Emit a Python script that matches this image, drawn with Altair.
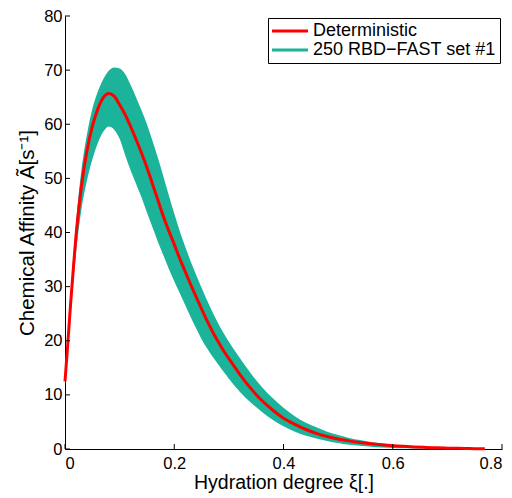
import altair as alt
import pandas as pd

# Hydration degree grid and curves
xi = [0.000, 0.005, 0.010, 0.015, 0.020, 0.025, 0.030, 0.040, 0.050, 0.060,
      0.070, 0.080, 0.090, 0.100, 0.110, 0.120, 0.130, 0.140, 0.150, 0.160,
      0.170, 0.180, 0.190, 0.200, 0.210, 0.220, 0.230, 0.240, 0.250, 0.260,
      0.270, 0.280, 0.290, 0.300, 0.320, 0.340, 0.360, 0.380, 0.400, 0.420,
      0.440, 0.460, 0.480, 0.500, 0.520, 0.540, 0.560, 0.580, 0.600, 0.620,
      0.640, 0.660, 0.680, 0.700, 0.720, 0.740, 0.7685]

det = [12.5, 19.3, 26.5, 33.0, 39.2, 44.2, 48.5, 55.0, 59.6, 62.8,
       64.9, 65.7, 65.2, 63.6, 61.8, 59.6, 57.2, 54.7, 52.0, 49.0,
       46.0, 43.0, 40.3, 37.8, 35.2, 32.8, 30.4, 28.1, 25.9, 23.7,
       21.7, 19.9, 18.2, 16.7, 13.8, 11.2, 9.0, 7.2, 5.7, 4.6,
       3.65, 2.9, 2.3, 1.85, 1.5, 1.2, 0.97, 0.78, 0.62, 0.49,
       0.38, 0.29, 0.22, 0.16, 0.12, 0.08, 0.05]

upper = [13.5, 20.8, 28.3, 35.3, 41.5, 47.0, 51.5, 58.0, 62.8, 66.0,
         68.3, 69.9, 70.5, 70.3, 69.3, 67.3, 65.0, 62.6, 60.0, 57.0,
         53.8, 50.4, 46.9, 43.5, 40.3, 37.4, 34.7, 32.2, 29.8, 27.5,
         25.3, 23.3, 21.5, 19.8, 16.8, 14.0, 11.5, 9.4, 7.6, 6.1,
         4.9, 4.0, 3.2, 2.6, 2.05, 1.65, 1.3, 1.0, 0.8, 0.62,
         0.48, 0.37, 0.28, 0.2, 0.14, 0.1, 0.06]

lower = [11.8, 17.8, 24.3, 30.5, 36.0, 40.5, 44.2, 49.5, 53.5, 56.5,
         58.6, 59.6, 59.0, 57.3, 54.3, 51.5, 49.0, 46.5, 43.7, 41.0,
         38.3, 35.8, 33.3, 31.0, 28.8, 26.6, 24.4, 22.3, 20.3, 18.6,
         17.1, 15.7, 14.3, 13.0, 10.6, 8.6, 6.9, 5.4, 4.2, 3.25,
         2.5, 1.95, 1.5, 1.1, 0.8, 0.6, 0.42, 0.28, 0.2, 0.14,
         0.1, 0.07, 0.05, 0.03, 0.02, 0.01, 0.01]

x_ticks = [0, 0.2, 0.4, 0.6, 0.8]
y_ticks = [0, 10, 20, 30, 40, 50, 60, 70, 80]
series_names = ["Deterministic", "250 RBD\u2212FAST set #1"]
series_colors = ["#ff0000", "#1bb39a"]

FONT = "Liberation Sans"
X_TITLE = "Hydration degree \u03be[.]"
Y_TITLE = "Chemical Affinity \u00c3[s\u207b\u00b9]"
W, H = 437, 433

df = pd.DataFrame({"xi": xi, "det": det, "upper": upper, "lower": lower,
                   "series": [series_names[0]] * len(xi)})
xt_df = pd.DataFrame({"xi": x_ticks})
yt_df = pd.DataFrame({"det": y_ticks})

xscale = alt.Scale(domain=[0, 0.8], nice=False, zero=False)
yscale = alt.Scale(domain=[0, 80], nice=False)
xaxis = alt.Axis(values=x_ticks, format=".1~f", title=X_TITLE)
yaxis = alt.Axis(values=y_ticks, format="d", title=Y_TITLE)

band = alt.Chart(df).mark_area(color=series_colors[1], interpolate="monotone").encode(
    x=alt.X("xi:Q", scale=xscale, axis=xaxis),
    y=alt.Y("lower:Q", scale=yscale, axis=yaxis),
    y2="upper:Q",
)

line = alt.Chart(df).mark_line(strokeWidth=3, interpolate="monotone").encode(
    x=alt.X("xi:Q", scale=xscale, axis=xaxis),
    y=alt.Y("det:Q", scale=yscale, axis=yaxis),
    color=alt.Color(
        "series:N",
        scale=alt.Scale(domain=series_names, range=series_colors),
        legend=alt.Legend(
            title=None, orient="none", legendX=203, legendY=2,
            direction="vertical", symbolType="M-3,0H3", symbolSize=144,
            symbolOffset=9, symbolStrokeWidth=3, symbolFillColor="transparent",
            labelFont=FONT, labelFontSize=18, labelColor="black",
            labelLimit=400, labelOffset=14,
            padding=4, rowPadding=1, strokeColor="black", fillColor="white",
            cornerRadius=0,
        ),
    ),
)

xt = alt.Chart(xt_df).mark_rule(color="black", strokeWidth=1).encode(
    x=alt.X("xi:Q", scale=xscale, axis=xaxis),
    y=alt.value(H), y2=alt.value(H - 5),
)
yt = alt.Chart(yt_df).mark_rule(color="black", strokeWidth=1).encode(
    y=alt.Y("det:Q", scale=yscale, axis=yaxis),
    x=alt.value(0), x2=alt.value(5),
)

chart = (
    alt.layer(band, line, xt, yt)
    .properties(
        width=W, height=H,
        autosize=alt.AutoSizeParams(type="none"),
        padding={"left": 57, "top": 8, "right": 2, "bottom": 44},
    )
    .configure_view(stroke=None)
    .configure_axis(
        grid=False, ticks=False, tickSize=0, domainColor="black", domainWidth=1,
        labelFont=FONT, labelFontSize=16.5, labelColor="black",
        titleFont=FONT, titleFontSize=19.5, titleFontWeight="normal", titleColor="black",
        zindex=1,
    )
    .configure_axisX(labelPadding=6, titlePadding=2)
    .configure_axisY(labelPadding=3, titlePadding=6, titleFontSize=20.5)
)

chart.save("out.html", embed_options={"renderer": "svg", "actions": False})
